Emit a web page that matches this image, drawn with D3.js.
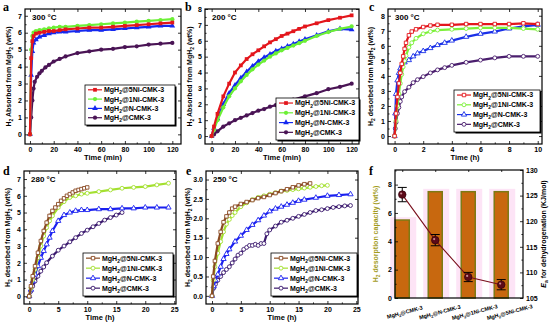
<!DOCTYPE html>
<html>
<head>
<meta charset="utf-8">
<script src="https://cdn.jsdelivr.net/npm/d3@7"></script>
<style>
  body { margin: 0; background: #fff; }
  svg { display: block; font-family: "Liberation Sans", Arial, sans-serif; font-weight: bold; }
</style>
</head>
<body>
<svg id="chart" width="550" height="329"></svg>
<script>
// ---- data ----
const legendLabels = ["MgH_2@5Ni-CMK-3", "MgH_2@1Ni-CMK-3", "MgH_2@N-CMK-3", "MgH_2@CMK-3"];

// a: absorption 300 °C, time in min
const a5Ni = [[0,0],[1,4.5],[2,5.5],[3,5.8],[5,5.95],[8,6.0],[12,6.05],[16,6.1],[20,6.1],[25,6.15],[30,6.2],[40,6.25],[50,6.3],[60,6.3],[70,6.35],[80,6.4],[90,6.45],[100,6.5],[110,6.55],[120,6.6]];
const a1Ni = [[0,0],[1,5.0],[2,5.8],[3,6.0],[5,6.1],[8,6.15],[12,6.2],[16,6.25],[20,6.3],[25,6.35],[30,6.35],[40,6.4],[50,6.45],[60,6.5],[70,6.55],[80,6.6],[90,6.65],[100,6.7],[110,6.75],[120,6.8]];
const aN   = [[0,0],[1,3.5],[2,4.9],[3,5.4],[5,5.6],[8,5.75],[12,5.85],[16,5.95],[20,6.0],[25,6.05],[30,6.05],[40,6.1],[50,6.15],[60,6.15],[70,6.2],[80,6.25],[90,6.3],[100,6.35],[110,6.4],[120,6.4]];
const aCMK = [[0,0],[1,1.0],[2,2.0],[3,2.7],[4,3.1],[6,3.4],[8,3.6],[10,3.75],[13,3.95],[16,4.1],[20,4.3],[25,4.45],[30,4.6],[40,4.8],[50,4.9],[60,5.0],[70,5.05],[80,5.15],[90,5.2],[100,5.3],[110,5.35],[120,5.4]];

// b: absorption 200 °C, time in min
const b5Ni = [[0,0],[2,0.6],[5,1.4],[10,2.5],[15,3.3],[20,4.0],[25,4.45],[30,4.85],[35,5.15],[40,5.4],[45,5.65],[50,5.9],[55,6.1],[60,6.3],[65,6.45],[70,6.6],[75,6.75],[80,6.9],[90,7.1],[100,7.3],[110,7.45],[120,7.6]];
const b1Ni = [[0,0],[2,0.4],[5,1.0],[10,1.8],[15,2.5],[20,3.0],[25,3.45],[30,3.85],[35,4.2],[40,4.5],[45,4.75],[50,5.0],[55,5.2],[60,5.4],[65,5.55],[70,5.7],[75,5.85],[80,6.0],[90,6.3],[100,6.55],[110,6.75],[120,6.9]];
const bN   = [[0,0],[2,0.5],[5,1.1],[10,2.0],[15,2.7],[20,3.2],[25,3.65],[30,4.05],[35,4.4],[40,4.7],[45,4.95],[50,5.15],[55,5.35],[60,5.5],[65,5.65],[70,5.8],[75,5.95],[80,6.1],[90,6.35],[100,6.6],[110,6.75],[120,6.7]];
const bCMK = [[0,0],[2,0.1],[5,0.3],[10,0.6],[15,0.8],[20,1.0],[25,1.15],[30,1.3],[35,1.45],[40,1.6],[45,1.7],[50,1.85],[55,1.95],[60,2.05],[70,2.3],[80,2.5],[90,2.7],[100,2.95],[110,3.1],[120,3.3]];

// c: desorption 300 °C, time in h
const c5Ni = [[0,0],[0.1,1.5],[0.2,2.6],[0.3,3.5],[0.4,4.2],[0.5,4.8],[0.6,5.3],[0.7,5.8],[0.8,6.2],[1,6.7],[1.2,6.95],[1.5,7.1],[2,7.25],[2.5,7.35],[3,7.4],[4,7.4],[5,7.45],[6,7.45],[7,7.45],[8,7.45],[9,7.5],[10,7.45]];
const c1Ni = [[0,0],[0.1,1.0],[0.2,2.0],[0.3,2.8],[0.4,3.5],[0.5,4.1],[0.6,4.6],[0.7,5.0],[0.8,5.35],[1,5.9],[1.2,6.2],[1.5,6.5],[2,6.8],[2.5,6.95],[3,7.05],[4,7.1],[5,7.15],[6,7.2],[7,7.2],[8,7.2],[9,7.15],[10,7.1]];
const cN   = [[0,0],[0.05,1.5],[0.1,2.8],[0.2,3.7],[0.3,4.2],[0.4,4.5],[0.5,4.7],[0.7,4.9],[1,5.05],[1.3,5.3],[1.6,5.5],[2,5.65],[2.5,5.85],[3,6.05],[3.5,6.2],[4,6.35],[5,6.6],[6,6.8],[7,6.95],[8,7.15],[9,7.3],[10,7.4]];
const cCMK = [[0,0],[0.05,0.5],[0.1,0.9],[0.2,1.5],[0.3,1.9],[0.4,2.3],[0.5,2.6],[0.7,2.95],[1,3.25],[1.3,3.55],[1.6,3.75],[2,3.95],[2.5,4.2],[3,4.4],[3.5,4.55],[4,4.7],[5,4.9],[6,5.05],[7,5.2],[8,5.3],[9,5.3],[10,5.3]];

// d: desorption 280 °C, time in h
const d5Ni = [[0,0],[0.3,0.6],[0.6,1.2],[1,1.8],[1.5,2.6],[2,3.3],[2.5,3.9],[3,4.4],[3.5,4.8],[4,5.1],[4.5,5.3],[5,5.5],[5.5,5.7],[6,5.85],[6.5,6.0],[7,6.1],[7.5,6.2],[8,6.3],[8.5,6.35],[9,6.4],[9.5,6.45],[10,6.5]];
const d1Ni = [[0,0],[0.3,0.5],[0.6,1.0],[1,1.6],[1.5,2.3],[2,3.0],[2.5,3.6],[3,4.1],[3.5,4.5],[4,4.8],[5,5.3],[6,5.65],[7,5.9],[8,6.0],[9,6.1],[10,6.15],[12,6.25],[14,6.35],[16,6.45],[18,6.5],[20,6.55],[22,6.65],[24,6.75]];
const dN   = [[0,0],[0.3,0.4],[0.6,0.9],[1,1.3],[1.5,1.8],[2,2.3],[2.5,2.7],[3,3.1],[3.5,3.5],[4,3.9],[5,4.5],[6,4.85],[7,5.0],[8,5.1],[9,5.15],[10,5.15],[12,5.2],[14,5.2],[16,5.25],[18,5.25],[20,5.3],[22,5.3],[24,5.3]];
const dCMK = [[0,0],[0.3,0.3],[0.6,0.6],[1,0.9],[1.5,1.2],[2,1.5],[2.5,1.75],[3,2.0],[4,2.4],[5,2.75],[6,3.0],[7,3.25],[8,3.5],[9,3.75],[10,3.95],[11,4.15],[12,4.35],[13,4.55],[14,4.7],[15,4.85],[16,5.0]];

// e: desorption 250 °C, time in h
const e5Ni = [[0,0],[0.2,0.5],[0.5,0.9],[1,1.35],[1.5,1.65],[2,1.9],[2.5,2.05],[3,2.15],[3.5,2.25],[4,2.3],[5,2.37],[6,2.42],[7,2.47],[8,2.52],[9,2.55],[10,2.6],[11,2.65],[12,2.7],[13,2.75],[14,2.8],[15,2.85],[16,2.88],[17,2.9]];
const e1Ni = [[0,0],[0.2,0.4],[0.5,0.75],[1,1.1],[1.5,1.4],[2,1.65],[2.5,1.85],[3,1.97],[3.5,2.07],[4,2.15],[5,2.3],[6,2.4],[7,2.48],[8,2.54],[9,2.58],[10,2.62],[11,2.66],[12,2.7],[13,2.72],[14,2.74],[15,2.76],[16,2.78],[17,2.8],[18,2.82],[19,2.84],[20,2.85]];
const eN   = [[0,0],[0.3,0.25],[0.6,0.4],[1,0.55],[1.5,0.75],[2,0.95],[2.5,1.08],[3,1.2],[4,1.4],[5,1.55],[6,1.7],[7,1.83],[8,1.95],[9,2.07],[10,2.18],[11,2.25],[12,2.3],[13,2.35],[14,2.4],[15,2.45],[16,2.48],[18,2.53],[20,2.58],[22,2.6],[24,2.62]];
const eCMK = [[0,0],[0.3,0.2],[0.6,0.3],[1,0.4],[1.5,0.5],[2,0.6],[2.5,0.68],[3,0.75],[3.5,0.85],[4,0.95],[4.5,1.05],[5,1.1],[5.5,1.2],[6,1.25],[6.5,1.3],[7,1.3],[7.5,1.33],[8,1.3],[8.5,1.35],[9,1.35],[9.5,1.6],[10,1.7],[11,1.8],[12,1.9],[13,1.95],[14,2.0],[15,2.05],[16,2.1],[17,2.15],[18,2.2],[19,2.22],[20,2.25],[21,2.28],[22,2.3],[23,2.32],[24,2.33]];

// f: capacity bars + activation energy
const fCats = ["MgH_2@CMK-3", "MgH_2@N-CMK-3", "MgH_2@1Ni-CMK-3", "MgH_2@5Ni-CMK-3"];
const fCapacity = [5.5, 7.5, 7.5, 7.5];
const fEa = [125.2, 116.3, 109.1, 107.6];
const fEaErr = [1.4, 1.1, 0.9, 1.0];

const colorsAB = ["#e3161c", "#6cf035", "#1428f0", "#4a1455"];
const colorsC  = ["#e3161c", "#7df03a", "#1a30e8", "#4b1f6e"];
const colorsDE = ["#8a4a22", "#a4e030", "#1a20f0", "#3b1a6e"];
const symbolsAll = [d3.symbolSquare, d3.symbolCircle, d3.symbolTriangle, d3.symbolCircle];

const svg = d3.select("#chart");

// write "_x" as a subscript x
function rich(sel, str, fs) {
  let sub = false;
  str.split(/(_.)/).filter(s => s.length).forEach(s => {
    if (s[0] === "_") {
      sel.append("tspan").attr("dy", fs * 0.3).style("font-size", (fs * 0.7) + "px").text(s.slice(1));
      sub = true;
    } else {
      sel.append("tspan").attr("dy", sub ? -fs * 0.3 : null).text(s);
      sub = false;
    }
  });
  return sel;
}

function styleAxis(ax, fs) {
  ax.select(".domain").remove();
  ax.selectAll(".tick line").attr("stroke", "#000").attr("stroke-width", 0.8);
  ax.selectAll("text").attr("fill", "#000").style("font-size", fs + "px").style("font-weight", "bold");
}

function frame(g, x, y, P) {
  const fs = 7;
  g.append("g").attr("transform", `translate(0,${P.b})`)
    .call(d3.axisBottom(x).tickValues(P.xTicks).tickSize(-3).tickPadding(3).tickFormat(d3.format("d")))
    .call(ax => styleAxis(ax, fs));
  g.append("g").attr("transform", `translate(0,${P.b})`)
    .call(d3.axisBottom(x).tickValues(P.xMinor).tickSize(-1.6).tickFormat(""))
    .call(ax => styleAxis(ax, fs));
  g.append("g").attr("transform", `translate(0,${P.t})`)
    .call(d3.axisTop(x).tickValues(P.xTicks).tickSize(-3).tickFormat(""))
    .call(ax => styleAxis(ax, fs));
  g.append("g").attr("transform", `translate(${P.l},0)`)
    .call(d3.axisLeft(y).tickValues(P.yTicks).tickSize(-3).tickPadding(3).tickFormat(d3.format(P.yFmt)))
    .call(ax => styleAxis(ax, fs));
  g.append("g").attr("transform", `translate(${P.l},0)`)
    .call(d3.axisLeft(y).tickValues(P.yMinor).tickSize(-1.6).tickFormat(""))
    .call(ax => styleAxis(ax, fs));
  g.append("g").attr("transform", `translate(${P.r},0)`)
    .call(d3.axisRight(y).tickValues(P.yTicks).tickSize(-3).tickFormat(""))
    .call(ax => styleAxis(ax, fs));
  g.append("rect")
    .attr("x", P.l).attr("y", P.t).attr("width", P.r - P.l).attr("height", P.b - P.t)
    .attr("fill", "none").attr("stroke", "#000").attr("stroke-width", 1.2);
}

function legend(g, P) {
  const [lx, ly, lw, lh] = P.leg;
  g.append("rect").attr("x", lx + 1.5).attr("y", ly + 1.5).attr("width", lw).attr("height", lh).attr("fill", "#000");
  g.append("rect").attr("x", lx).attr("y", ly).attr("width", lw).attr("height", lh)
    .attr("fill", "#fff").attr("stroke", "#000").attr("stroke-width", 0.8);
  const step = lh / 4.3;
  legendLabels.forEach((lab, i) => {
    const yy = ly + lh * 0.12 + i * step;
    g.append("line").attr("x1", lx + 3).attr("x2", lx + 17).attr("y1", yy).attr("y2", yy)
      .attr("stroke", P.colors[i]).attr("stroke-width", 1.2);
    g.append("path").attr("transform", `translate(${lx + 10},${yy})`)
      .attr("d", d3.symbol(symbolsAll[i], P.open ? 12 : 14)())
      .attr("fill", P.open ? "#fff" : P.colors[i]).attr("stroke", P.colors[i]).attr("stroke-width", P.open ? 0.9 : 0);
    rich(g.append("text").attr("x", lx + 19).attr("y", yy + 2.4).style("font-size", "7px"), lab, 7);
  });
}

function drawPanel(P) {
  const g = svg.append("g");
  const x = d3.scaleLinear().domain(P.xDom).range([P.l, P.r]);
  const y = d3.scaleLinear().domain(P.yDom).range([P.b, P.t]);
  const clipId = "clip-" + P.key;
  g.append("clipPath").attr("id", clipId).append("rect")
    .attr("x", P.l).attr("y", P.t).attr("width", P.r - P.l).attr("height", P.b - P.t);

  const plot = g.append("g").attr("clip-path", `url(#${clipId})`);
  const line = d3.line().x(d => x(d[0])).y(d => y(d[1]));
  // draw CMK first so 5Ni sits on top
  [3, 2, 1, 0].forEach(i => {
    const s = P.series[i];
    plot.append("path").datum(s).attr("fill", "none")
      .attr("stroke", P.colors[i]).attr("stroke-width", 2.2).attr("d", line);
    plot.selectAll(null).data(s).enter().append("path")
      .attr("transform", d => `translate(${x(d[0])},${y(d[1])})`)
      .attr("d", d3.symbol(symbolsAll[i], P.open ? 12 : 14)())
      .attr("fill", P.open ? "#fff" : P.colors[i])
      .attr("stroke", P.colors[i]).attr("stroke-width", P.open ? 0.9 : 0);
  });

  frame(g, x, y, P);
  legend(g, P);

  g.append("text").attr("x", P.letter[0]).attr("y", P.letter[1])
    .style("font-family", "'Liberation Serif', 'Times New Roman', serif").style("font-size", "12px").text(P.key);
  g.append("text").attr("x", P.l + 7).attr("y", P.t + 11).style("font-size", "8px").text(P.temp);
  g.append("text").attr("x", (P.l + P.r) / 2).attr("y", P.b + 16)
    .attr("text-anchor", "middle").style("font-size", "7.5px").text(P.xTitle);
  rich(g.append("text")
    .attr("transform", `translate(${P.yTitleX},${(P.t + P.b) / 2}) rotate(-90)`)
    .attr("text-anchor", "middle").style("font-size", "7px"), P.yTitle, 7);
}

const absorbTitle = "H_2 Absorbed from MgH_2 (wt%)";
const desorbTitle = "H_2 desorbed from MgH_2 (wt%)";

drawPanel({ key: "a", l: 25, r: 181, t: 9, b: 144, xDom: [-4.2, 127.3], yDom: [-0.57, 7.4],
  xTicks: d3.range(0, 121, 20), xMinor: d3.range(10, 121, 20), yTicks: d3.range(0, 8), yMinor: d3.range(0.5, 7.1, 1), yFmt: "d",
  series: [a5Ni, a1Ni, aN, aCMK], colors: colorsAB, open: false, leg: [85, 85, 90, 40],
  letter: [3, 11], temp: "300 °C", xTitle: "Time (min)", yTitle: absorbTitle, yTitleX: 11 });

drawPanel({ key: "b", l: 205, r: 359, t: 9, b: 144, xDom: [-5.7, 126.3], yDom: [-0.5, 8.0],
  xTicks: d3.range(0, 121, 20), xMinor: d3.range(10, 121, 20), yTicks: d3.range(0, 9), yMinor: d3.range(0.5, 8, 1), yFmt: "d",
  series: [b5Ni, b1Ni, bN, bCMK], colors: colorsAB, open: false, leg: [276, 98, 83, 42],
  letter: [185, 11], temp: "200 °C", xTitle: "Time (min)", yTitle: absorbTitle, yTitleX: 192 });

drawPanel({ key: "c", l: 388, r: 542, t: 9, b: 144, xDom: [-0.46, 10.3], yDom: [-0.53, 8.45],
  xTicks: d3.range(0, 11, 2), xMinor: d3.range(1, 10, 2), yTicks: d3.range(0, 9), yMinor: d3.range(0.5, 8.1, 1), yFmt: "d",
  series: [c5Ni, c1Ni, cN, cCMK], colors: colorsC, open: true, leg: [454, 90, 86, 42],
  letter: [369, 11], temp: "300 °C", xTitle: "Time (h)", yTitle: desorbTitle, yTitleX: 373 });

drawPanel({ key: "d", l: 24, r: 176, t: 171, b: 304, xDom: [-0.9, 25.3], yDom: [-0.46, 7.48],
  xTicks: d3.range(0, 26, 5), xMinor: d3.range(2.5, 25, 5), yTicks: d3.range(0, 8), yMinor: d3.range(0.5, 7.1, 1), yFmt: "d",
  series: [d5Ni, d1Ni, dN, dCMK], colors: colorsDE, open: true, leg: [83, 253, 90, 43],
  letter: [3, 175], temp: "280 °C", xTitle: "Time (h)", yTitle: desorbTitle, yTitleX: 10 });

drawPanel({ key: "e", l: 206, r: 358, t: 171, b: 304, xDom: [-1.04, 25.3], yDom: [-0.21, 3.22],
  xTicks: d3.range(0, 26, 5), xMinor: d3.range(2.5, 25, 5), yTicks: d3.range(0, 3.01, 0.5), yMinor: d3.range(0.25, 3.1, 0.5), yFmt: ".1f",
  series: [e5Ni, e1Ni, eN, eCMK], colors: colorsDE, open: true, leg: [271, 253, 86, 43],
  letter: [186, 175], temp: "250 °C", xTitle: "Time (h)", yTitle: desorbTitle, yTitleX: 190 });

// ---- panel f ----
(function () {
  const P = { l: 395, r: 523, t: 170, b: 298 };
  const g = svg.append("g");
  const x = d3.scaleLinear().domain([-0.22, 3.66]).range([P.l, P.r]);
  const yL = d3.scaleLinear().domain([0, 9.03]).range([P.b, P.t]);
  const yR = d3.scaleLinear().domain([105, 130]).range([P.b, P.t]);
  const idx = fCats.map((_, i) => i);

  g.selectAll(".pink").data(fCapacity).enter().append("rect")
    .attr("x", (d, i) => x(i) - 12).attr("width", 26)
    .attr("y", d => yL(d + 0.2)).attr("height", d => P.b - yL(d + 0.2))
    .attr("fill", "#fde4f6");
  g.selectAll(".bar").data(fCapacity).enter().append("rect")
    .attr("x", (d, i) => x(i) - 7).attr("width", 14)
    .attr("y", d => yL(d)).attr("height", d => P.b - yL(d))
    .attr("fill", "#c8680f").attr("stroke", "#7d7a14").attr("stroke-width", 1.5);

  const fs = 7;
  g.append("g").attr("transform", `translate(${P.l},0)`)
    .call(d3.axisLeft(yL).tickValues([0, 2, 4, 6, 8]).tickSize(-3).tickPadding(3))
    .call(ax => styleAxis(ax, fs));
  g.append("g").attr("transform", `translate(${P.l},0)`)
    .call(d3.axisLeft(yL).tickValues([1, 3, 5, 7, 9]).tickSize(-1.6).tickFormat(""))
    .call(ax => styleAxis(ax, fs));
  g.append("g").attr("transform", `translate(${P.r},0)`)
    .call(d3.axisRight(yR).tickValues(d3.range(105, 131, 5)).tickSize(-3).tickPadding(3))
    .call(ax => styleAxis(ax, fs));
  g.append("g").attr("transform", `translate(${P.r},0)`)
    .call(d3.axisRight(yR).tickValues(d3.range(107.5, 130, 5)).tickSize(-1.6).tickFormat(""))
    .call(ax => styleAxis(ax, fs));
  g.append("g").attr("transform", `translate(0,${P.t})`)
    .call(d3.axisTop(x).tickValues(idx).tickSize(-2).tickFormat(""))
    .call(ax => styleAxis(ax, fs));
  g.append("rect").attr("x", P.l).attr("y", P.t).attr("width", P.r - P.l).attr("height", P.b - P.t)
    .attr("fill", "none").attr("stroke", "#000").attr("stroke-width", 1.2);

  // Ea line, error bars, points
  g.append("path").datum(fEa).attr("fill", "none").attr("stroke", "#7a0f1c").attr("stroke-width", 1.1)
    .attr("d", d3.line().x((d, i) => x(i)).y(d => yR(d)));
  idx.forEach(i => {
    const lo = yR(fEa[i] - fEaErr[i]), hi = yR(fEa[i] + fEaErr[i]);
    g.append("line").attr("x1", x(i)).attr("x2", x(i)).attr("y1", lo).attr("y2", hi).attr("stroke", "#000").attr("stroke-width", 1);
    [lo, hi].forEach(v => g.append("line").attr("x1", x(i) - 4.5).attr("x2", x(i) + 4.5).attr("y1", v).attr("y2", v)
      .attr("stroke", "#000").attr("stroke-width", 1));
  });
  g.selectAll(".pt").data(fEa).enter().append("circle")
    .attr("cx", (d, i) => x(i)).attr("cy", d => yR(d)).attr("r", 3.8)
    .attr("fill", "#5c0a18").attr("stroke", "#2a0008").attr("stroke-width", 0.6);
  g.selectAll(".hl").data(fEa).enter().append("circle")
    .attr("cx", (d, i) => x(i) - 1.1).attr("cy", d => yR(d) - 1.1).attr("r", 1.1).attr("fill", "#c98a94");

  // category labels
  fCats.forEach((c, i) => {
    rich(g.append("text")
      .attr("transform", `translate(${x(i) + 3 + i * 2},${P.b + 16}) rotate(-15)`)
      .attr("text-anchor", "middle").style("font-size", "5.5px"), c, 5.5);
  });

  g.append("text").attr("x", 369).attr("y", 175)
    .style("font-family", "'Liberation Serif', 'Times New Roman', serif").style("font-size", "12px").text("f");
  rich(g.append("text")
    .attr("transform", `translate(378,${(P.t + P.b) / 2}) rotate(-90)`)
    .attr("text-anchor", "middle").attr("fill", "#a39c1e").style("font-size", "7px"),
    "H_2 desorption capacity (wt%)", 7);
  const rt = g.append("text")
    .attr("transform", `translate(546,${(P.t + P.b) / 2}) rotate(-90)`)
    .attr("text-anchor", "middle").style("font-size", "7px");
  rt.append("tspan").style("font-style", "italic").text("E");
  rt.append("tspan").attr("dy", 2).style("font-size", "5px").text("a");
  rt.append("tspan").attr("dy", -2).text(" for dehydrogenation (KJ/mol)");
})();
</script>
</body>
</html>
